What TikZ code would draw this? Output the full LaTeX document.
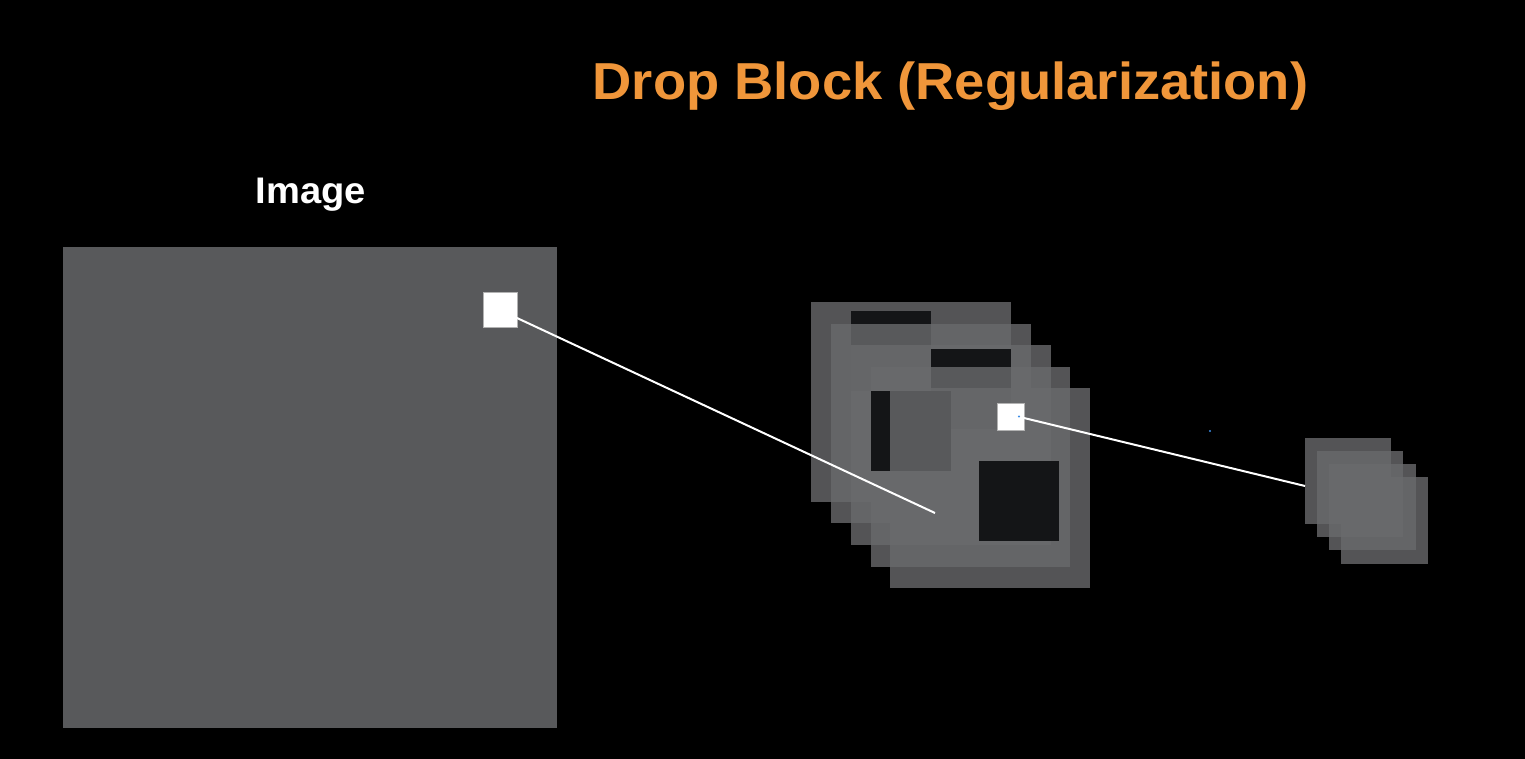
\documentclass[tikz,border=0pt]{standalone}
\usepackage{fontspec}
\setmainfont{Liberation Sans}
\definecolor{titleorange}{RGB}{240,150,58}
\definecolor{imggray}{RGB}{88,89,91}
\definecolor{laygray}{RGB}{105,106,108}
\definecolor{holecol}{RGB}{20,21,23}
\definecolor{dotblue}{RGB}{60,140,230}
\begin{document}
\begin{tikzpicture}[x=1pt,y=-1pt,
  layer/.style={fill=laygray, fill opacity=0.8},
  hole/.style={fill=holecol},
  whitesq/.style={draw=gray!60, line width=0.6, fill=white, inner sep=0pt},
  link/.style={draw=white, line width=2},
  bluedot/.style={fill=dotblue, circle, inner sep=0pt, minimum size=2.2}]
\useasboundingbox (0,0) rectangle (1525,759);
\fill[black] (0,0) rectangle (1525,759);
% titles
\node[anchor=base, text=titleorange, font=\fontsize{52}{60}\selectfont\bfseries, xscale=1.045, inner sep=0pt] (title) at (950.5,99.5) {Drop Block (Regularization)};
\node[anchor=base, text=white, font=\fontsize{37}{42}\selectfont\bfseries, xscale=1.03, inner sep=0pt] (imglabel) at (311,203.5) {Image};
% image
\fill[imggray] (63,247) rectangle (557,728);
\node[whitesq, minimum width=34, minimum height=35] (w1) at (500,309.5) {};
% middle stack
\path[layer] (811,302) rectangle (1011,502);
\path[hole] (851,311) rectangle (931,391);
\path[layer] (831,324) rectangle (1031,523);
\path[layer] (851,345) rectangle (1051,545);
\path[hole] (931,349) rectangle (1011,429);
\path[layer] (871,367) rectangle (1070,567);
\path[hole] (871,391) rectangle (951,471);
\path[layer] (890,388) rectangle (1090,588);
\path[hole] (979,461) rectangle (1059,541);
\node[whitesq, minimum width=27, minimum height=27] (w2) at (1010.5,416.5) {};
% right stack
\path[layer] (1305,438) rectangle (1391,524);
\path[layer] (1317,451) rectangle (1403,537);
\path[layer] (1329,464) rectangle (1416,550);
\path[layer] (1341,477) rectangle (1428,564);
% connectors
\coordinate (l1a) at (517,318);
\coordinate (l1b) at (935,513);
\coordinate (l2a) at (1024,418);
\coordinate (l2b) at (1305,486);
\draw[link] (l1a) -- (l1b);
\draw[link] (l2a) -- (l2b);
\node[bluedot] (d1) at (1019,416.5) {};
\node[bluedot] (d2) at (1210,431) {};
\end{tikzpicture}
\end{document}
